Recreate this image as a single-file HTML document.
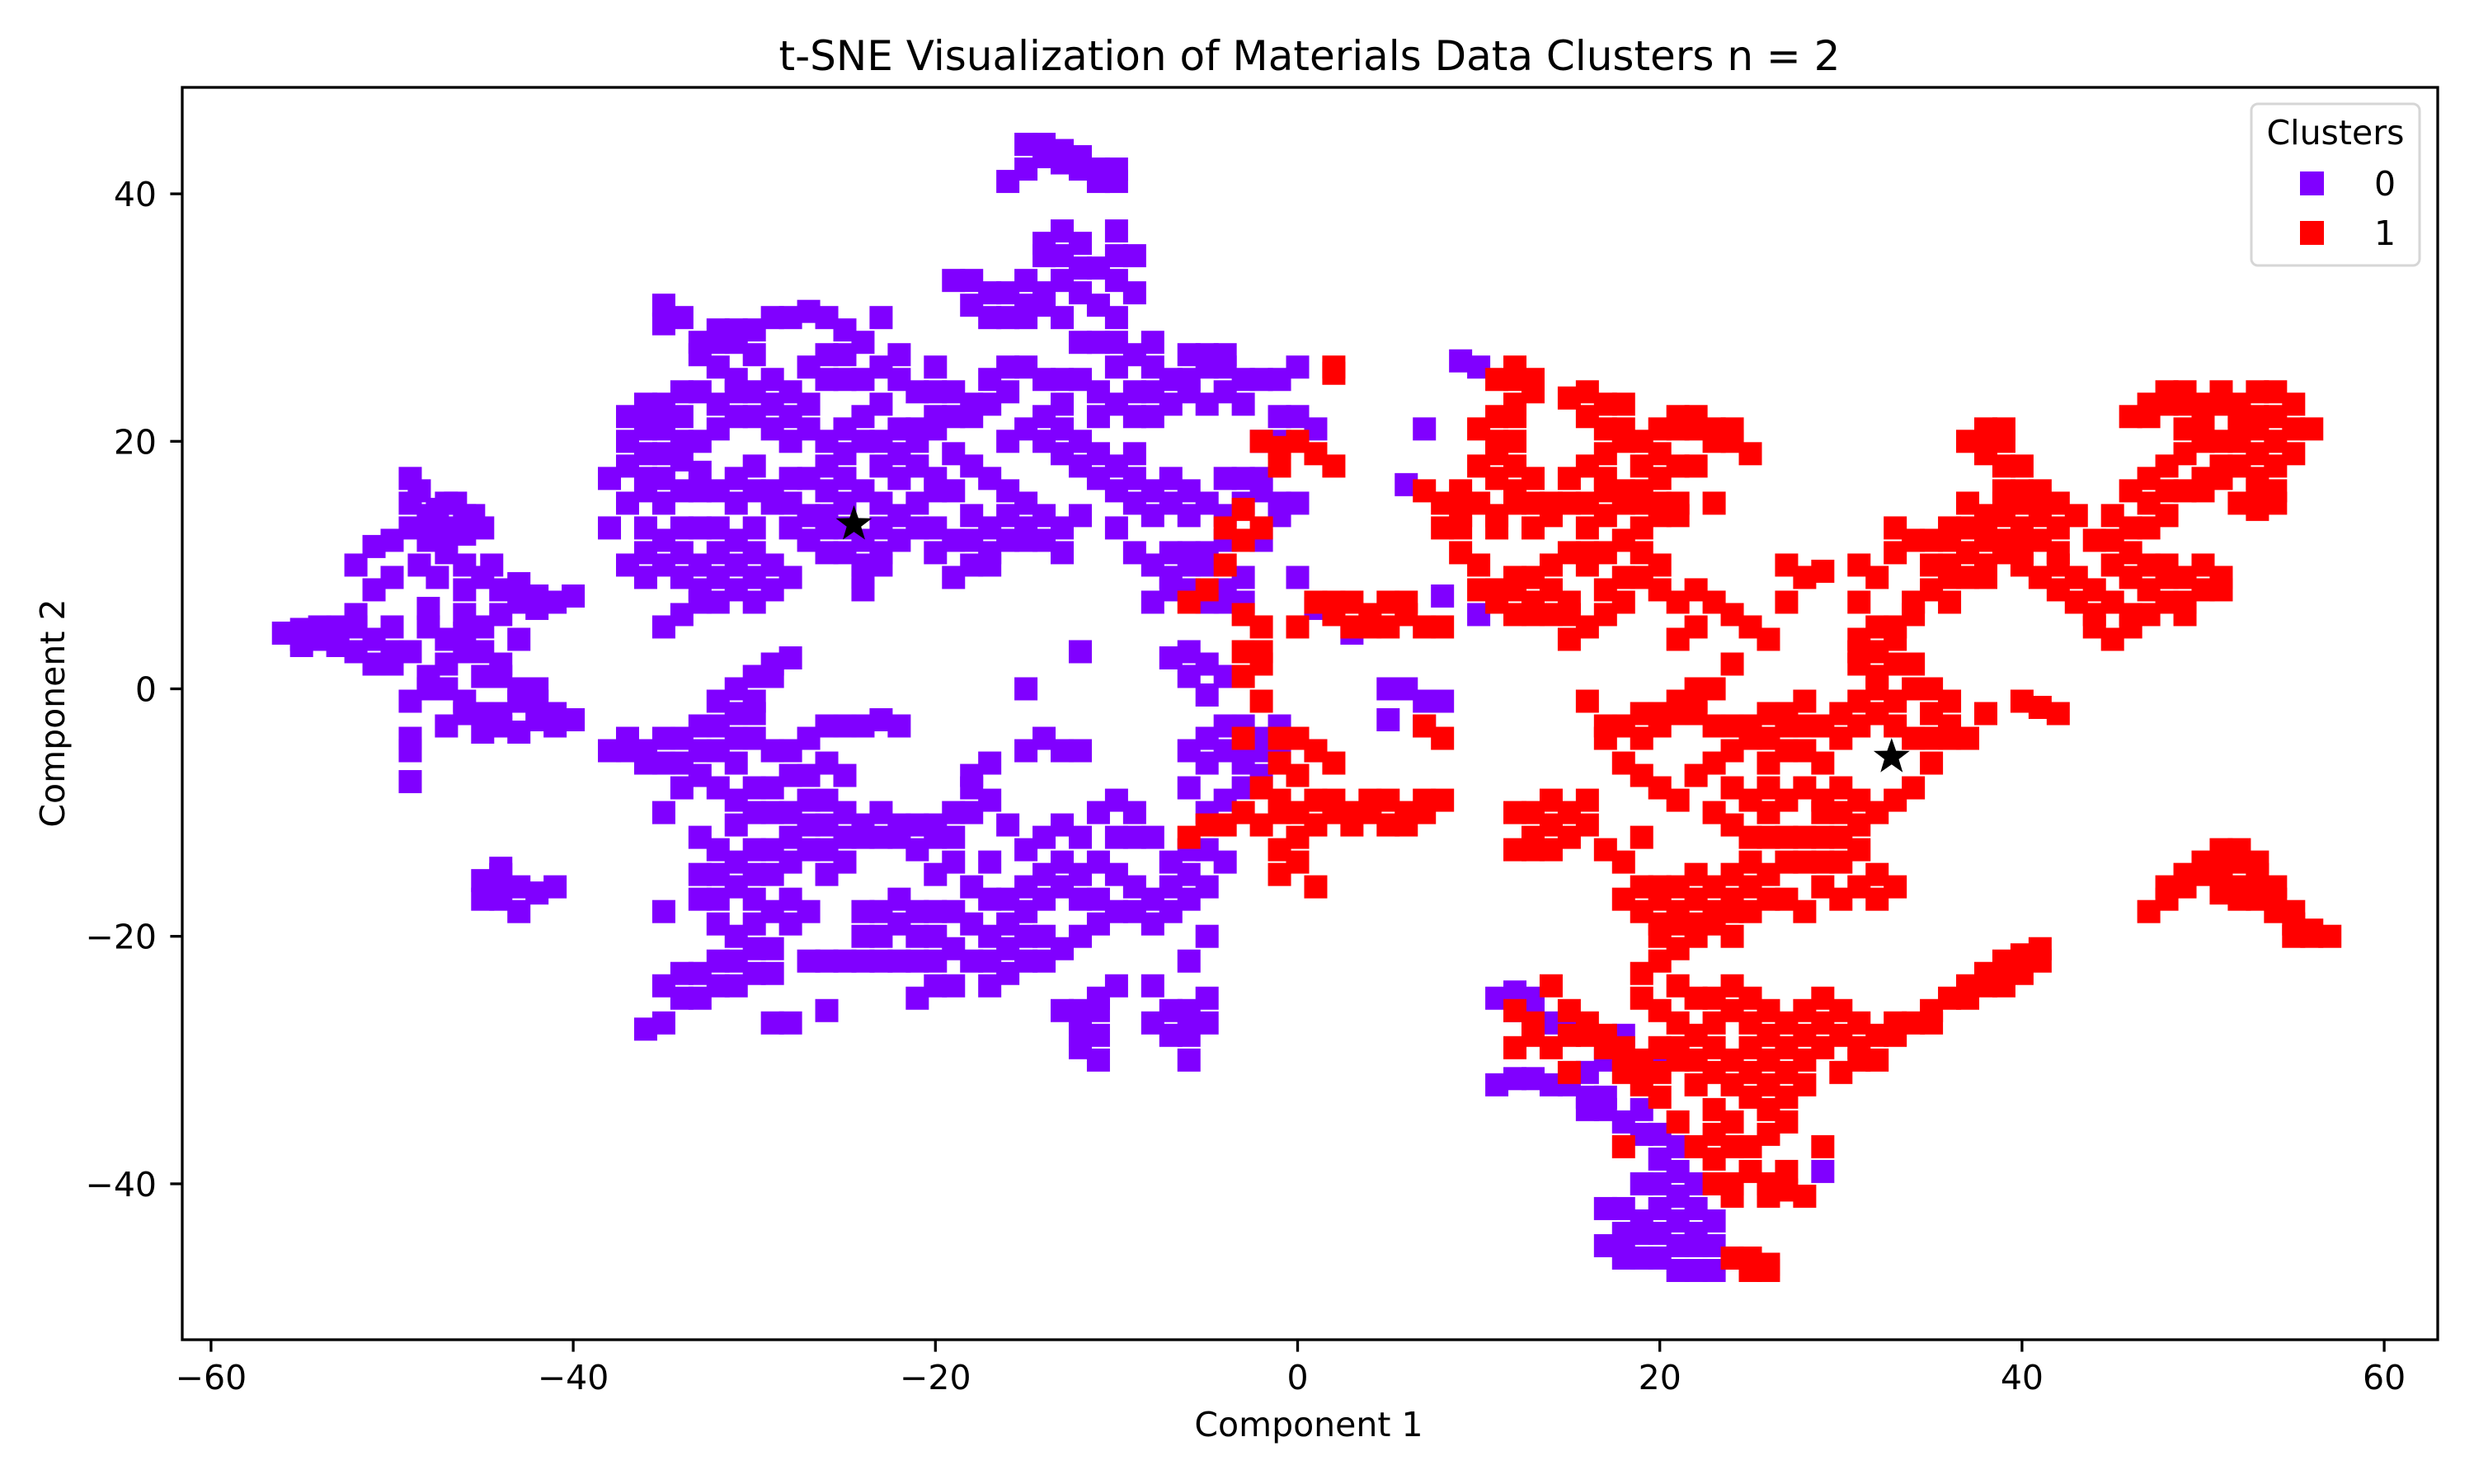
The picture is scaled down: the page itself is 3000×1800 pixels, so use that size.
<!DOCTYPE html>
<html><head><meta charset="utf-8"><style>html,body{margin:0;padding:0;background:#fff}svg{display:block}text{font-family:"DejaVu Sans","Liberation Sans",sans-serif;fill:#000}</style></head>
<body>
<svg id="chart" width="3000" height="1800" viewBox="0 0 3000 1800" xmlns="http://www.w3.org/2000/svg">
<rect width="3000" height="1800" fill="#fff"/>
<text x="1588" y="85" font-size="50" text-anchor="middle">t-SNE Visualization of Materials Data Clusters n = 2</text>
<g id="marks"></g>
<g id="axes"></g>
<text x="1587" y="1742" font-size="41" text-anchor="middle">Component 1</text>
<text x="64" y="865" font-size="41" text-anchor="middle" dominant-baseline="central" transform="rotate(-90 64 865)">Component 2</text>
<g>
<rect x="2730" y="126" width="204" height="196" rx="8" fill="#fff" fill-opacity="0.8" stroke="#d6d6d6" stroke-width="3"/>
<text x="2832" y="175" font-size="41" text-anchor="middle">Clusters</text>
<rect x="2789" y="208" width="29" height="29" fill="#8000ff"/>
<text x="2892" y="237" font-size="41" text-anchor="middle">0</text>
<rect x="2789" y="268" width="29" height="29" fill="#ff0000"/>
<text x="2892" y="297" font-size="41" text-anchor="middle">1</text>
</g>
</svg>
<script>
const xTicks=[-60,-40,-20,0,20,40,60];
const yTicks=[-40,-20,0,20,40];
const cluster0=[[-56,4.5],[-55,4.8],[-54,4],[-53,5],[-52,3],[-51,2],[-52,6],[-51,8],[-52,10],[-51,11.5],[-50,9],[-49,13],[-48,14],[-47,15],[-46,14],[-45,13],[-49,17],[-49,15],[-48,12],[-47,11],[-46,10],[-45,9],[-44,8],[-43,7],[-42,6.5],[-41,7],[-40,7.5],[-44,6],[-46,6],[-48,5],[-47,4],[-49,3],[-50,2],[-48,1],[-47,0],[-46,-1],[-45,-2],[-44,-3],[-43,-3.5],[-42,-2.5],[-41,-2],[-43,-1],[-45,1],[-44,2],[-46,3],[-49,-1],[-49,-4],[-49,-7.5],[-48,6.5],[-50,12],[-47,13],[-46,8],[-45,5],[-43,4],[-42,0],[-44,-15],[-44,-17],[-43,-18],[-42,-16.5],[-41,-16],[-45,-15.5],[-47,2],[-53,3.5],[-55,4],
[-48.5,16],[-47.5,14.5],[-46.5,15],[-45.5,14],[-48,13.5],[-47,12],[-46,12.5],[-44.5,10],[-43,8.5],[-42,7.5],[-47.5,9],[-48.5,10],[-50,5],[-51,4],[-52,5],[-53,4],[-54,5],[-55,3.5],[-50,3],[-46,4.5],[-45,3],[-44,1],[-43,0],[-42,-1],[-41,-3],[-40,-2.5],[-44,-2],[-46,-2],[-47,-3],[-45,-3.5],[-48,0],[-49,-5],[-44,-16],[-43,-16],[-45,-17],[-44,-14.5],
[-37,20],[-36,22],[-35,23],[-34,24],[-36,17],[-37,15],[-35,15],[-33,16],[-31,17],[-30,18],[-29,16],[-28,15],[-34,18.5],[-35,29.5],[-35,31],[-34,30],[-33,28],[-32,29],[-31,28],[-30,27],[-29,30],[-29,25],[-28,24],[-27,26],[-26,25],[-25,27],[-24,28],[-26,30],[-27,30.5],[-25,29],[-23,30],[-22,25],[-23,23],[-24,22],[-25,21],[-26,20],[-27,21],[-28,20],[-29,21],[-30,22],[-31,22],[-32,21],[-33,20],[-35,21],[-36,9],[-35,10],[-34,11],[-33,10],[-32,9],[-31,10],[-30,9],[-29,8],[-33,7],[-34,6],[-35,5],[-37,10],[-38,13],[-36,13],[-32,13],[-30,13],[-28,13],[-27,14],[-26,16],[-25,17],[-24,16],[-23,18],[-22,19],[-21,20],[-20,21],[-23,10],[-24,9],[-24,8],[-22,12],[-26,13],[-25,11],[-38,17],[-36,19],[-37,22],[-33,24],[-32,26],[-31,25],
[-36,23],[-35,22],[-34,22],[-36,21],[-37,18],[-36,16],[-35,17],[-34,16],[-33,17.5],[-32,16],[-31,15],[-30,16],[-29,15],[-28,17],[-27,17],[-26,18],[-25,19],[-24,20],[-23,20],[-22,21],[-35,19],[-34,20],[-33,27],[-32,28],[-31,29],[-30,29],[-28,30],[-26,27],[-25,25],[-24,25],[-23,26],[-22,27],[-21,24],[-20,24],[-27,23],[-28,22],[-29,23],[-30,24],[-31,24],[-32,23],[-34,13],[-35,12],[-33,13],[-32,11],[-31,12],[-30,11],[-29,10],[-28,9],[-36,11],[-34,9],[-33,8],[-31,8],[-30,7],[-32,7],[-27,12],[-26,11],[-25,13],[-24,12],[-23,13],[-22,14],[-21,15],[-20,17],[-21,18],[-22,17],[-23,15],[-25,15],[-26,14],[-24,10],[-23,11],[-20,13],[-19,12],[-19,16],[-18,14],[-17,13],[-16,14],[-15,13],[-14,12],[-13,11],[-12,14],[-16,12],[-17,10],[-18,12],
[-15,44],[-14,43],[-13,42.5],[-12,43],[-11,42],[-10,41],[-16,41],[-15,33],[-14,35],[-13,37],[-12,36],[-14,32],[-16,32],[-18,31],[-19,33],[-17,30],[-15,30],[-13,30],[-12,28],[-10,37],[-9,35],[-10,33],[-11,31],[-11,28],[-10,26],[-9,24],[-8,22],[-7,23],[-6,25],[-5,26],[-4,24],[-3,23],[-2,25],[-1,25],[0,26],[-1,22],[1,21],[-8,28],[-6,27],[-4,27],[-20,26],[-19,24],[-18,23],[-17,25],[-16,26],[-20,22],[-21,21],[-18,18],[-17,17],[-16,16],[-15,15],[-14,14],[-13,13],[-15,12],[-17,11],[-18,10],[-19,9],[-20,11],[-21,13],[-20,16],[-19,19],[-14,22],[-13,21],[-12,20],[-11,17],[-10,16],[-9,15],[-8,14],[-10,13],[-7,17],[-6,14],[-5,11],[-4,12],[-6,10],[-7,9],[-8,7],[-4,8],[-3,7],[-2,12],[-3,15],[-1,15],[-2,17],[-4,17],[-9,19],[-11,22],[-13,25],[-15,26],[-16,20],[-12,3],[-7,2.5],[-6,3],[-5,2],[-4,1],[-6,1],[-5,-0.5],
[-14,44],[-13,43.5],[-12,42],[-11,41],[-10,42],[-15,42],[-14,36],[-13,35],[-12,34],[-13,33],[-14,31],[-15,31],[-16,30],[-17,32],[-18,33],[-12,32],[-11,34],[-10,35],[-9,32],[-10,30],[-10,28],[-9,27],[-8,26],[-7,25],[-6,24],[-5,23],[-8,24],[-9,22],[-10,23],[-11,24],[-12,25],[-13,23],[-14,25],[-16,24],[-17,23],[-18,22],[-19,22],[-15,21],[-14,20],[-13,19],[-12,18],[-11,19],[-10,18],[-9,17],[-8,16],[-7,15],[-6,16],[-5,15],[-4,14],[-3,17],[-2,16],[-1,14],[0,15],[-2,20],[-1,20],[0,22],[-3,25],[-4,26],[-5,27],[-6,11],[-7,11],[-8,10],[-9,11],[-5,10],[-4,7],[-5,7],[-6,8],[-7,8],[-3,9],
[-38,-5],[-37,-4],[-36,-5],[-35,-6],[-34,-8],[-33,-7],[-32,-5],[-31,-4],[-30,-2],[-31,0],[-30,1],[-29,2],[-28,2.5],[-32,-1],[-33,-3],[-35,-10],[-33,-12],[-32,-13],[-31,-11],[-30,-10],[-29,-8],[-28,-7],[-27,-9],[-26,-11],[-28,-12],[-29,-13],[-30,-15],[-31,-16],[-32,-17],[-33,-15],[-30,-19],[-29,-21],[-30,-23],[-31,-22],[-32,-24],[-33,-23],[-34,-25],[-35,-24],[-35,-27],[-36,-27.5],[-35,-18],[-29,-27],[-28,-27],[-26,-26],[-27,-22],[-27,-18],[-28,-17],[-26,-15],[-25,-14],[-24,-11],[-23,-10],[-22,-12],[-21,-13],[-20,-11],[-19,-10],[-18,-8],[-17,-6],[-26,-3],[-25,-3],[-24,-3],[-23,-2.5],[-22,-3],[-26,-6],[-25,-7],[-34,-4],[-27,-4],[-29,-5],[-25,-22],[-24,-18],[-23,-20],[-22,-19],
[-37,-5],[-36,-6],[-35,-4],[-34,-6],[-33,-5],[-32,-3],[-31,-2],[-30,-1],[-29,1],[-30,-4],[-31,-6],[-32,-8],[-31,-9],[-30,-8],[-29,-10],[-28,-10],[-27,-11],[-27,-13],[-28,-14],[-29,-15],[-30,-13],[-31,-14],[-32,-15],[-33,-17],[-32,-19],[-31,-20],[-30,-21],[-29,-23],[-31,-24],[-32,-22],[-34,-23],[-33,-25],[-29,-18],[-28,-19],[-30,-17],[-26,-13],[-25,-12],[-26,-9],[-27,-7],[-28,-5],[-25,-10],[-24,-12],[-23,-12],[-22,-11],[-21,-11],[-20,-12],[-19,-12],[-18,-10],[-17,-9],[-18,-7],[-24,-20],[-23,-18],[-22,-17],[-21,-20],[-22,-22],[-23,-22],[-24,-22],[-26,-22],[-21,-22],[-20,-22],[-19,-24],[-20,-18],[-19,-18],[-18,-19],[-17,-17],[-16,-17],[-15,-16],[-14,-15],[-13,-14],[-12,-17],[-11,-17],[-10,-18],[-9,-18],[-8,-19],[-7,-16],[-6,-15],[-5,-13],[-6,-13],[-16,-21],[-17,-22],[-15,-20],[-14,-22],[-13,-21],[-12,-20],[-11,-19],[-10,-12],[-9,-12],[-12,-28],[-11,-30],[-12,-26],[-11,-25],[-7,-28],[-6,-27],[-6,-26],[-4,-5],[-5,-6],[-3,-6],[-2,-4],[-3,-3],
[-21,-18],[-20,-20],[-19,-21],[-18,-22],[-17,-20],[-16,-19],[-15,-18],[-14,-17],[-13,-16],[-12,-15],[-11,-14],[-10,-15],[-9,-16],[-8,-17],[-7,-18],[-6,-17],[-5,-16],[-4,-14],[-7,-14],[-8,-12],[-9,-10],[-10,-9],[-11,-10],[-12,-12],[-13,-11],[-14,-12],[-15,-13],[-16,-11],[-17,-14],[-18,-16],[-19,-14],[-20,-15],[-21,-25],[-20,-24],[-17,-24],[-16,-23],[-15,-22],[-14,-20],[-13,-26],[-12,-27],[-12,-29],[-11,-28],[-11,-26],[-10,-24],[-8,-27],[-7,-26],[-6,-28],[-6,-30],[-5,-27],[-5,-25],[-8,-24],[-5,-20],[-6,-22],[-15,-5],[-14,-4],[-13,-5],[-12,-5],[-15,0],[-6,-5],[-5,-4],[-4,-3],[-3,-5],[-2,-5],[-1,-5],[-2,-7],[-3,-8],[-4,-9],[-5,-10],[-6,-8],[-1,-3],
[5,0],[6,0],[7,-1],[8,-1],[7,-3],[5,-2.5],[9,26.5],[10,26],[7,21],[6,16.5],[8,7.5],[10,6],[0,9],[1,6.5],[3,4.5],[1,-5],
[11,-25],[12,-24.5],[13,-25],[14,-27],[15,-27],[11,-32],[12,-31.5],[13,-31.5],[14,-32],[15,-32],[16,-33],[17,-30],[17,-34],[18,-35],[19,-34],[19,-36],[20,-38],[21,-37],[18,-42],[19,-43],[20,-42],[21,-43],[22,-44],[23,-45],[20,-46],[21,-47],[22,-47],[23,-47],[24,-46],[19,-46],[18,-45],[17,-45],[17,-42],[19,-40],[22,-40],[21,-45],[16,-31],[29,-39],[20,-30],[18,-28],
[18,-44],[19,-44],[20,-44],[21,-41],[22,-42],[20,-40],[18,-46],[22,-45],[23,-43],[21,-39],[20,-36],[17,-33],[16,-34],[13,-26],[12,-26]];
const cluster1=[[-3,14.5],[-4,13],[-2,5],[-3,3],[-3,1],[-2,-1],[-3,-4],[-1,-4],[0,-4],[-2,-8],[-1,-9],[0,-10],[1,-11],[2,-9],[3,-10],[4,-9],[5,-11],[6,-10],[7,-9],[8,-9],[-1,-13],[1,-16],[-1,-15],[-6,-12],[-5,-11],[-3,-10],[0,-7],[2,-6],[1,7],[2,6],[3,5],[4,6],[5,7],[6,6],[7,5],[8,5],[-4,10],[-5,8],[-6,7],[-2,20],[-1,19.5],[1,19],[2,18],[2,25.5],[2,26],[7,-3],[8,-4],
[-3,12],[-2,13],[-3,6],[-2,3],[-2,2],[-1,-6],[-1,-10],[0,-12],[1,-9],[2,-10],[3,-11],[4,-10],[5,-9],[6,-11],[7,-10],[0,-14],[-4,-11],[-2,-11],[1,-5],[0,5],[2,7],[3,7],[4,5],[5,5],[6,7],[-1,18],[0,20],
[11,25],[12,26],[13,24],[12,23],[11,22],[10,21],[11,19],[12,18],[13,17],[12,15],[11,14],[13,13],[14,15],[15,17],[16,18],[17,19],[18,20],[19,18],[20,21],[21,22],[22,21],[23,20],[24,21],[25,19],[17,23],[18,23],[15,23.5],[16,24],[21,15],[20,14],[19,13],[18,12],[17,11],[16,10],[18,9],[17,8],[15,7],[14,8],[13,9],[12,8],[11,7],[10,8],[10,15],[9,14],[8,13],[9,16],[7,16],[22,18],[20,17],[18,16],[23,15],[14,6],[16,5],[15,4],[12,6],[13,7],[20,10],[19,11],[16,13],[9,11],[10,10],
[12,25],[13,25],[12,22],[12,20],[11,20],[11,17],[10,18],[12,16],[13,15],[14,14],[15,15],[16,15],[17,16],[17,14],[18,15],[19,15],[20,15],[21,14],[19,16],[21,18],[20,19],[19,20],[18,21],[17,21],[16,22],[17,17],[16,11],[15,11],[14,10],[12,9],[11,8],[13,6],[15,6],[17,6],[18,7],[19,9],[21,21],[22,22],[23,21],[24,20],[9,15],[8,15],[9,13],[11,13],
[20,8],[21,7],[22,8],[23,7],[24,6],[25,5],[26,4],[24,2],[23,0],[22,-1],[21,-2],[20,-3],[19,-4],[18,-6],[17,-3],[16,-1],[21,4],[22,5],[25,-3],[26,-4],[27,-2],[28,-3],[27,-5],[26,-6],[24,-5],[29,-6],[30,-4],[31,-3],[32,-2],[33,-1],[34,0],[35,-2],[36,-3],[37,-4],[38,-2],[40,-1],[41,-1.5],[42,-2],[31,2],[31,4],[32,5],[31,7],[32,9],[33,11],[34,12],[35,10],[36,9],[37,11],[38,12],[39,14],[40,15],[41,16],[42,15],[43,14],[38,9],[36,7],[34,6],[33,4],[32,0],[27,7],[28,9],[27,10],[29,9.5],[31,10],[33,13],[30,-8],[29,-10],[28,-12],[27,-14],[26,-15],[25,-16],[24,-17],[23,-18],[22,-19],[21,-18],[20,-17],[19,-16],[20,-20],[21,-21],[23,-19],[24,-20],[25,-12],[25,-9],[26,-10],[29,-14],[30,-12],[31,-11],[32,-10],[33,-9],[34,-8],[31,-13],[32,-15],[33,-16],[28,-18],[30,-17],[19,-12],[18,-14],[12,-10],[13,-12],[14,-9],[15,-10],[16,-11],[12,-13],[17,-13],[20,-22],[19,-23],[19,-25],[36,-4],[35,-6],[20,-8],[19,-7],[21,-9],[23,-10],[24,-11],
[22,-2],[23,-3],[24,-3],[25,-4],[26,-2],[27,-3],[28,-5],[28,-1],[29,-3],[30,-2],[31,-1],[32,1],[31,3],[32,3],[33,5],[34,7],[35,8],[36,10],[37,9],[38,10],[39,11],[40,12],[41,14],[42,13],[38,14],[39,15],[37,13],[36,12],[33,2],[34,2],[35,0],[36,-1],[33,-3],[34,-4],[35,-4],[22,0],[21,-1],[20,-2],[19,-2],[18,-3],[17,-4],[26,-8],[27,-9],[28,-8],[29,-9],[30,-10],[31,-9],[29,-12],[28,-14],[27,-12],[26,-12],[25,-14],[24,-15],[23,-16],[22,-17],[21,-16],[20,-16],[22,-15],[24,-18],[25,-18],[26,-17],[27,-17],[29,-16],[30,-14],[31,-16],[32,-17],[21,-19],[22,-20],[20,-19],[19,-18],[18,-17],[24,-8],[23,-6],[22,-7],[13,-10],[14,-11],[15,-12],[13,-13],[14,-13],[16,-9],
[12,-26],[13,-27],[14,-24],[15,-26],[16,-28],[17,-28],[18,-29],[19,-30],[20,-31],[21,-29],[22,-28],[23,-27],[24,-26],[25,-27],[26,-28],[27,-27],[28,-26],[29,-25],[30,-26],[31,-27],[32,-28],[33,-28],[34,-27],[35,-26],[36,-25],[37,-24],[38,-23],[39,-22],[40,-21.5],[41,-22],[40,-23],[39,-24],[22,-32],[23,-34],[24,-35],[25,-33],[26,-32],[27,-31],[28,-30],[29,-29],[30,-31],[22,-37],[23,-38],[24,-40],[25,-39],[26,-40],[27,-40.5],[28,-41],[24,-46],[25,-47],[26,-46.5],[23,-36],[21,-35],[20,-33],[19,-32],[29,-37],[31,-30],[18,-37],[18,-31],[15,-31],[12,-29],[22,-25],[21,-24],[24,-24],
[17,-29],[18,-30],[19,-31],[20,-29],[21,-27],[21,-30],[22,-30],[23,-29],[23,-31],[24,-30],[25,-29],[26,-30],[27,-29],[28,-28],[29,-27],[30,-28],[31,-29],[32,-30],[24,-32],[25,-31],[26,-34],[27,-33],[28,-32],[24,-37],[25,-37],[26,-36],[27,-35],[23,-40],[24,-41],[26,-41],[27,-39],[25,-46],[26,-47],[15,-28],[16,-27],[14,-29],[13,-28],[20,-26],[23,-25],[25,-25],[26,-26],[33,-27],[35,-27],[37,-25],[38,-24],[39,-23],[41,-21],
[47,-18],[48,-17],[49,-16],[50,-15],[51,-14],[52,-13],[53,-14],[52,-16],[51,-16.5],[53,-17],[54,-18],[55,-19],[56,-19.5],[57,-20],[54,-16],[46,22],[47,23],[48,24],[49,23],[50,22],[51,24],[52,23],[53,24],[54,24],[55,23],[56,21],[55,19],[54,18],[53,17],[52,15],[53,14.5],[54,15],[50,20],[49,19],[48,18],[47,17],[46,16],[45,14],[44,12],[45,10],[46,9],[47,8],[48,10],[49,9],[50,8],[51,8],[49,6],[46,6],[44,5],[43,7],[47,13],[48,14],[50,16],[51,18],[52,20],[53,21],[51,20],[39,20],[38,21],[37,20],[38,19],[40,18],[39,16],[40,10],[41,12],[42,11],[39,12],[40,13],[44,8],[45,4],[37,15],[36,13],[35,12],[41,9],[42,8],
[47,22],[48,23],[49,24],[50,23],[51,23],[52,22],[53,22],[54,22],[55,21],[54,20],[53,19],[52,18],[51,17],[50,17],[49,16],[48,16],[47,15],[46,13],[45,12],[46,11],[47,10],[48,9],[50,10],[51,9],[49,7],[48,7],[45,7],[44,6],[46,5],[47,6],[52,21],[50,21],[49,21],[53,16],[54,16],[48,-16],[49,-15],[50,-14],[51,-15],[52,-14],[52,-17],[53,-16],[54,-17],[55,-18],[56,-20],[55,-20],[53,-15],[51,-13],[38,20],[39,21],[40,16],[41,15],[39,18],[42,10],[43,9],[40,11],[38,13]];
const centroidsX=[-24.5,32.8];
const centroidsY=[13.3,-5.5];

const NS='http://www.w3.org/2000/svg';
const L=221,R=2956,T=106,B=1625;
function sx(v){return 1573.5+v*21.96;}
function sy(v){return 835.5-v*15.01;}
function mk(tag,attrs,parent){const e=document.createElementNS(NS,tag);for(const k in attrs)e.setAttribute(k,attrs[k]);parent.appendChild(e);return e;}
const marks=document.getElementById('marks');
const axes=document.getElementById('axes');
const MS=28;
function drawCluster(pts,color,name){
  pts.forEach(p=>{
    const r=mk('rect',{x:sx(p[0])-MS/2,y:sy(p[1])-MS/2,width:MS,height:MS,fill:color},marks);
    
    
  });
}
drawCluster(cluster0,'#8000ff','point-cluster-0');
drawCluster(cluster1,'#ff0000','point-cluster-1');
function starPath(cx,cy,ro){let d='';const ri=ro*0.4;for(let i=0;i<10;i++){const a=-Math.PI/2+i*Math.PI/5;const r=i%2?ri:ro;d+=(i?'L':'M')+(cx+r*Math.cos(a)).toFixed(1)+','+(cy+r*Math.sin(a)).toFixed(1);}return d+'Z';}
centroidsX.forEach((cx,i)=>{
  const s=mk('path',{d:starPath(sx(cx),sy(centroidsY[i]),23),fill:'#000'},marks);
  
  
});
const frame=mk('rect',{x:L,y:T,width:R-L,height:B-T,fill:'none',stroke:'#000','stroke-width':3.3},axes);


xTicks.forEach(v=>{
  const x=sx(v);
  const t=mk('line',{x1:x,x2:x,y1:B,y2:B+14.6,stroke:'#000','stroke-width':3.3},axes);
  
  
  const lb=mk('text',{x:x,y:1685,'font-size':41,'text-anchor':'middle'},axes);
  lb.textContent=(v<0?'\u2212'+(-v):String(v));
  
  
});
yTicks.forEach(v=>{
  const y=sy(v);
  const t=mk('line',{x1:L-14.6,x2:L,y1:y,y2:y,stroke:'#000','stroke-width':3.3},axes);
  
  
  const lb=mk('text',{x:190,y:y+15,'font-size':41,'text-anchor':'end'},axes);
  lb.textContent=(v<0?'\u2212'+(-v):String(v));
  
  
});
</script>
</body></html>
